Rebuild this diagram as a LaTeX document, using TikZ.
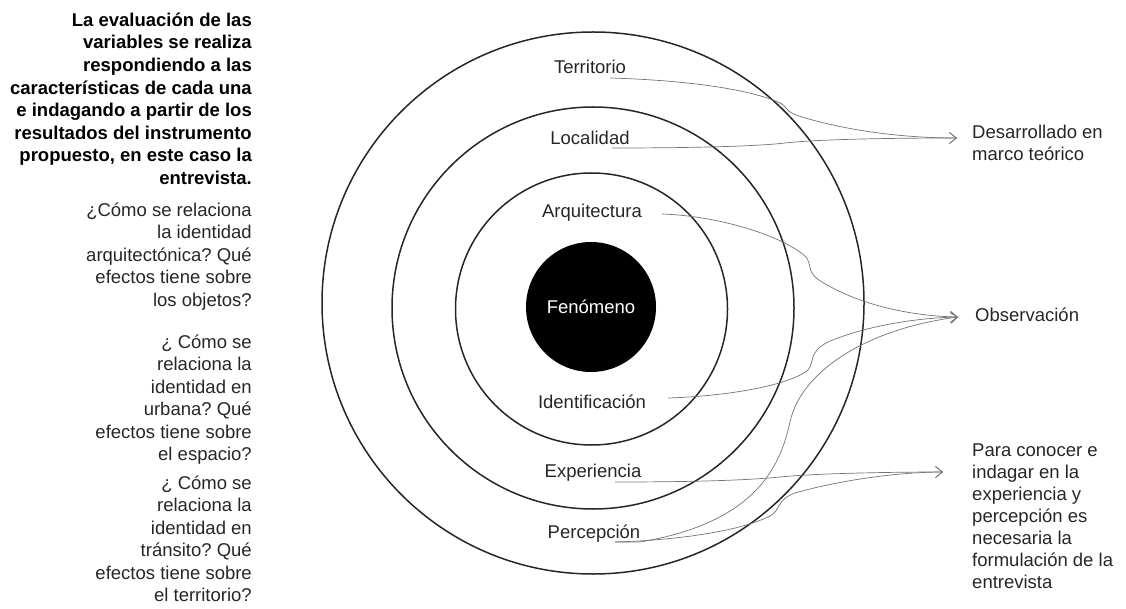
\documentclass[tikz,border=0pt]{standalone}
\usepackage{fontspec}
\setmainfont{Liberation Sans}
\usetikzlibrary{arrows.meta}
\frenchspacing
\begin{document}
\begin{tikzpicture}[x=1pt,y=-1pt,
  ring/.style={circle, draw=black!85, line width=1.5pt, minimum size=#1, inner sep=0pt},
  lbl/.style={font=\fontsize{18.5}{22.5}\selectfont, text=black!85, inner sep=0pt, anchor=base},
  para/.style={font=\fontsize{18.5}{22.5}\selectfont, text=black!85, inner sep=0pt, align=right, anchor=north east},
  rtext/.style={font=\fontsize{18.5}{22.5}\selectfont, text=black!85, inner sep=0pt, align=left, anchor=north west},
  conn/.style={draw=black!55, line width=0.7pt},
  arr/.style={conn, -{Straight Barb[length=7pt,width=11pt]}}
]
\useasboundingbox (0,0) rectangle (1126,609);

% rings
\node[ring=542pt] (c1) at (593,303) {};
\node[ring=402pt] (c2) at (593,308) {};
\node[ring=272pt] (c3) at (591.5,309) {};
\node[circle, fill=black, minimum size=130pt, inner sep=0pt,
      font=\fontsize{18.5}{22.5}\selectfont, text=white] (fen) at (591,307) {Fenómeno};

% ring labels
\node[lbl] (terr) at (590,73.5) {Territorio};
\node[lbl] (loc)  at (590,144.5) {Localidad};
\node[lbl] (arq)  at (592,217.5) {Arquitectura};
\node[lbl] (ide)  at (592,408) {Identificación};
\node[lbl] (exp)  at (593,477) {Experiencia};
\node[lbl] (per)  at (594,538) {Percepción};

% left texts
\node[para, font=\fontsize{18.5}{22.6}\selectfont\bfseries, text=black] (intro) at (252,12.5)
  {La evaluación de las\\variables se realiza\\respondiendo a las\\características de cada una\\e indagando a partir de los\\resultados del instrumento\\propuesto, en este caso la\\entrevista.};
\node[para] (q1) at (252,202.5)
  {¿Cómo se relaciona\\la identidad\\arquitectónica? Qué\\efectos tiene sobre\\los objetos?};
\node[para] (q2) at (252,334.5)
  {¿ Cómo se\\relaciona la\\identidad en\\urbana? Qué\\efectos tiene sobre\\el espacio?};
\node[para] (q3) at (252,475.5)
  {¿ Cómo se\\relaciona la\\identidad en\\tránsito? Qué\\efectos tiene sobre\\el territorio?};

% right texts
\node[rtext] (des) at (972,124.5) {Desarrollado en\\marco teórico};
\node[lbl, anchor=base west] (obs) at (975,322) {Observación};
\node[rtext, font=\fontsize{18.5}{22}\selectfont] (ent) at (972,443.5)
  {Para conocer e\\indagar en la\\experiencia y\\percepción es\\necesaria la\\formulación de la\\entrevista};

% connector ends
\coordinate (terrS) at (610,78);
\coordinate (locS)  at (612,148);
\coordinate (arqS)  at (662,214);
\coordinate (ideS)  at (668,398);
\coordinate (expS)  at (615,482);
\coordinate (perS)  at (615,542);
\coordinate (desA)  at (957,138);
\coordinate (obsA)  at (958,317);
\coordinate (entA)  at (943,472);

% connectors
\draw[arr] (terrS) .. controls (680,80) and (745,88) .. (778,102)
                   .. controls (790,107) and (782,111) .. (802,117)
                   .. controls (845,130) and (900,138) .. (desA);
\draw[arr] (locS) .. controls (700,148) and (760,146) .. (785,143)
                  .. controls (820,139) and (900,138) .. (desA);
\draw[arr] (arqS) .. controls (720,216) and (782,236) .. (805,256)
                  .. controls (813,264) and (805,272) .. (822,282)
                  .. controls (860,305) and (910,316) .. (obsA);
\draw[arr] (ideS) .. controls (730,396) and (790,385) .. (808,370)
                  .. controls (815,362) and (808,352) .. (828,342)
                  .. controls (860,328) and (910,318) .. (obsA);
\draw[arr] (perS) -- (640,542) .. controls (760,522) and (781,462) .. (790,422)
                  .. controls (800,375) and (860,330) .. (obsA);
\draw[arr] (expS) .. controls (700,482) and (750,480) .. (780,477)
                  .. controls (820,473) and (900,472) .. (entA);
\draw[arr] (perS) .. controls (680,540) and (740,531) .. (770,516)
                  .. controls (781,510) and (776,500) .. (795,493)
                  .. controls (840,480) and (900,472) .. (entA);
\end{tikzpicture}
\end{document}
